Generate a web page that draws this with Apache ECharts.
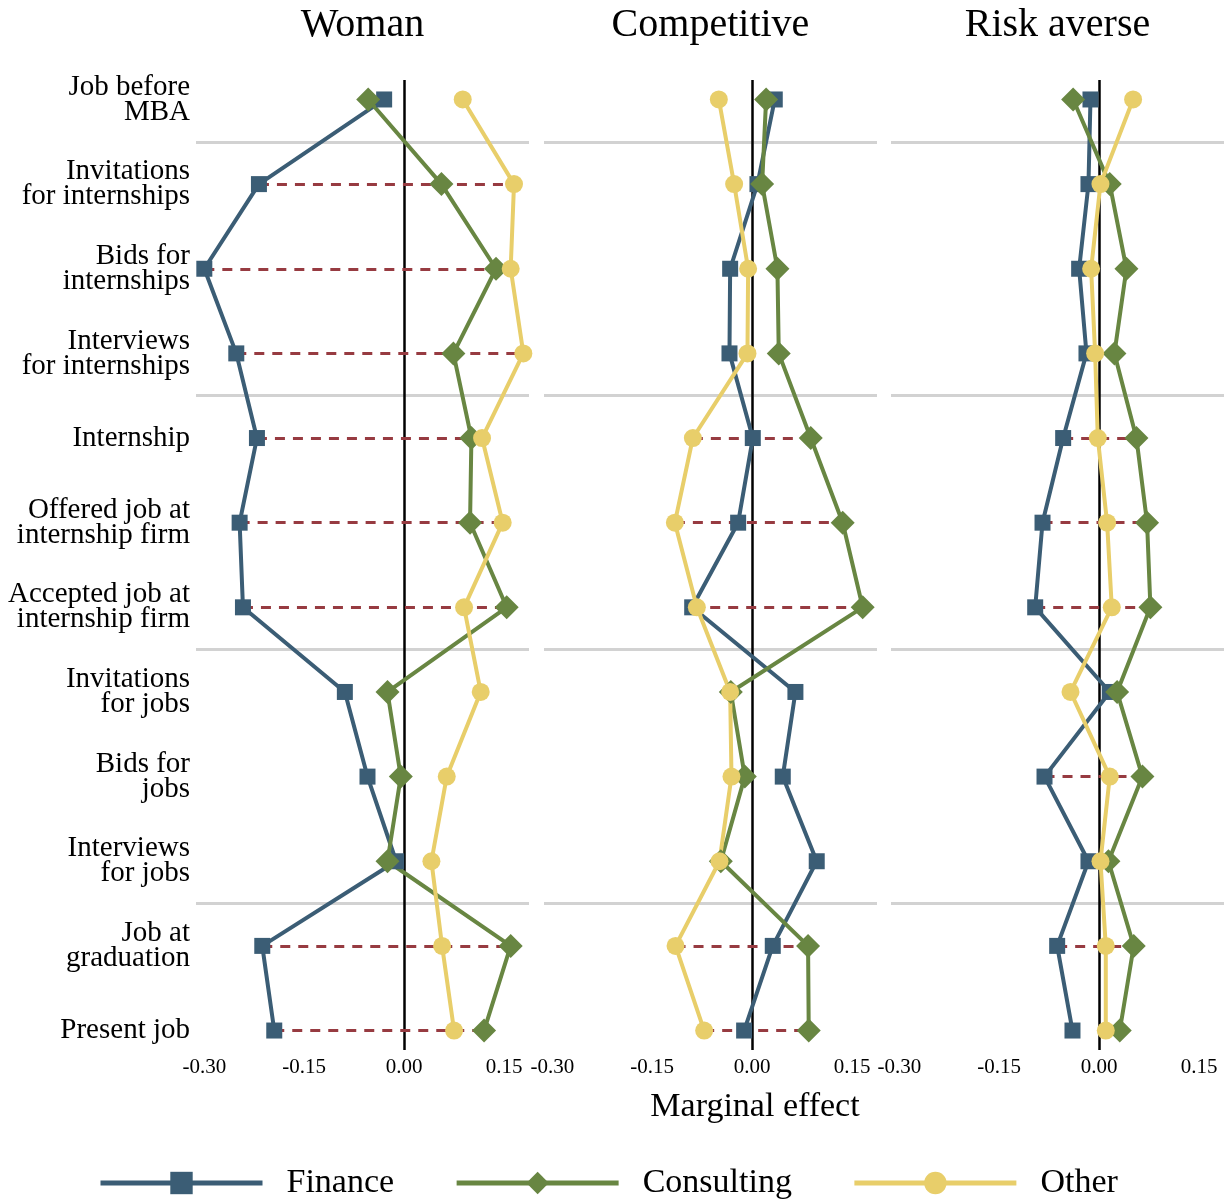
<!DOCTYPE html>
<html><head><meta charset="utf-8">
<script src="https://cdn.jsdelivr.net/npm/echarts@6/dist/echarts.min.js"></script>
<style>html,body{margin:0;padding:0;background:#fff}#chart{width:1231px;height:1204px}</style>
</head><body><div id="chart"></div>
<script>
// ---------- data ----------
const categories = [
  'Job before\nMBA', 'Invitations\nfor internships', 'Bids for\ninternships', 'Interviews\nfor internships',
  'Internship', 'Offered job at\ninternship firm', 'Accepted job at\ninternship firm',
  'Invitations\nfor jobs', 'Bids for\njobs', 'Interviews\nfor jobs', 'Job at\ngraduation', 'Present job'
];
const panelTitles = ['Woman', 'Competitive', 'Risk averse'];
const seriesNames = ['Finance', 'Consulting', 'Other'];
const xTickValues = [-0.30, -0.15, 0.00, 0.15];
const separatorsAt = [0.5, 3.5, 6.5, 9.5];

const womanFinance    = [-0.030, -0.218, -0.300, -0.252, -0.221, -0.247, -0.242, -0.089, -0.055, -0.012, -0.213, -0.195];
const womanConsulting = [-0.054,  0.056,  0.138,  0.074,  0.101,  0.099,  0.154, -0.025, -0.005, -0.025,  0.160,  0.120];
const womanOther      = [ 0.088,  0.165,  0.160,  0.179,  0.117,  0.148,  0.090,  0.115,  0.064,  0.041,  0.057,  0.075];

const compFinance     = [ 0.034,  0.008, -0.033, -0.034,  0.001, -0.021, -0.090,  0.065,  0.046,  0.097,  0.031, -0.012];
const compConsulting  = [ 0.021,  0.015,  0.038,  0.040,  0.088,  0.136,  0.166, -0.032, -0.011, -0.047,  0.084,  0.085];
const compOther       = [-0.050, -0.027, -0.006, -0.007, -0.089, -0.116, -0.083, -0.033, -0.031, -0.049, -0.115, -0.072];

const riskFinance     = [-0.013, -0.016, -0.030, -0.019, -0.054, -0.085, -0.096,  0.016, -0.082, -0.016, -0.063, -0.040];
const riskConsulting  = [-0.039,  0.016,  0.041,  0.023,  0.056,  0.072,  0.077,  0.027,  0.065,  0.014,  0.052,  0.031];
const riskOther       = [ 0.051,  0.002, -0.012, -0.006, -0.002,  0.012,  0.019, -0.043,  0.016,  0.002,  0.010,  0.010];

// rows where the difference between the three sectors is marked by a dashed line
const womanMarkedRows = [1, 2, 3, 4, 5, 6, 10, 11];
const compMarkedRows  = [4, 5, 6, 10, 11];
const riskMarkedRows  = [4, 5, 6, 8, 10];

// ---------- styling / layout ----------
const FONT = '"Liberation Serif", "Times New Roman", serif';
const colors = ['#3b5d75', '#688642', '#e8ce6a'];
const symbols = ['rect', 'diamond', 'circle'];
const symbolSizes = [16, 24, 18];
const gridLefts = [196, 544, 891];
const gridWidth = 333;
const gridTop = 80, gridHeight = 970;

const panelData = [
  [womanFinance, womanConsulting, womanOther],
  [compFinance, compConsulting, compOther],
  [riskFinance, riskConsulting, riskOther]
];
const panelMarked = [womanMarkedRows, compMarkedRows, riskMarkedRows];

const grids = [], xAxes = [], yAxes = [], series = [], graphics = [];
panelData.forEach((sets, p) => {
  grids.push({ left: gridLefts[p], top: gridTop, width: gridWidth, height: gridHeight });
  xAxes.push({
    gridIndex: p, type: 'value', min: -0.3125, max: 0.1875,
    axisLine: { show: false }, axisTick: { show: false }, splitLine: { show: false },
    axisLabel: {
      customValues: xTickValues, margin: 7,
      formatter: v => v.toFixed(2),
      fontFamily: FONT, fontSize: 21, color: '#000'
    }
  });
  yAxes.push({
    gridIndex: p, type: 'value', inverse: true, min: -0.23, max: 11.23,
    axisLine: { show: false }, axisTick: { show: false }, splitLine: { show: false },
    axisLabel: {
      show: p === 0, customValues: categories.map((c, i) => i), margin: 6,
      formatter: v => categories[Math.round(v)],
      fontFamily: FONT, fontSize: 29, lineHeight: 25, color: '#000', align: 'right'
    }
  });
  // helper series: separators, zero line, dashed range lines
  const dashPairs = panelMarked[p].map(r => {
    const vals = sets.map(s => s[r]);
    return [{ coord: [Math.min(...vals), r] }, { coord: [Math.max(...vals), r] }];
  });
  series.push({
    type: 'line', xAxisIndex: p, yAxisIndex: p, data: [], silent: true, z: 1,
    markLine: {
      silent: true, symbol: 'none', animation: false, z: 1,
      label: { show: false },
      data: separatorsAt.map(y => ({ yAxis: y, lineStyle: { color: '#d2d2d2', width: 3, type: 'solid' } }))
        .concat([{ xAxis: 0, lineStyle: { color: '#000', width: 2.5, type: 'solid' } }])
        .concat(dashPairs.map(pair => [
          Object.assign({ lineStyle: { color: '#973b41', width: 3, type: [10, 8] } }, pair[0]), pair[1]
        ]))
    }
  });
  sets.forEach((vals, k) => {
    series.push({
      name: seriesNames[k], type: 'line', xAxisIndex: p, yAxisIndex: p, z: 3,
      data: vals.map((v, i) => [v, i]),
      symbol: symbols[k], symbolSize: symbolSizes[k],
      lineStyle: { color: colors[k], width: 4 },
      itemStyle: { color: colors[k] },
      emphasis: { disabled: true }
    });
  });
  graphics.push({
    type: 'text', x: gridLefts[p] + gridWidth / 2, y: 25,
    style: { text: panelTitles[p], font: '40px ' + FONT, fill: '#000', textAlign: 'center', textVerticalAlign: 'middle' }
  });
});
graphics.push({
  type: 'text', x: 755, y: 1107,
  style: { text: 'Marginal effect', font: '34px ' + FONT, fill: '#000', textAlign: 'center', textVerticalAlign: 'middle' }
});

const chart = echarts.init(document.getElementById('chart'));
chart.setOption({
  animation: false,
  backgroundColor: '#fff',
  grid: grids, xAxis: xAxes, yAxis: yAxes, series: series,
  graphic: graphics,
  legend: {
    data: seriesNames, left: 98, top: 1166, padding: 0,
    itemWidth: 162, itemHeight: 28, itemGap: 60,
    lineStyle: { width: 5 },
    textStyle: { fontFamily: FONT, fontSize: 34, color: '#000', padding: [0, 0, 0, 19] }
  }
});
</script></body></html>
